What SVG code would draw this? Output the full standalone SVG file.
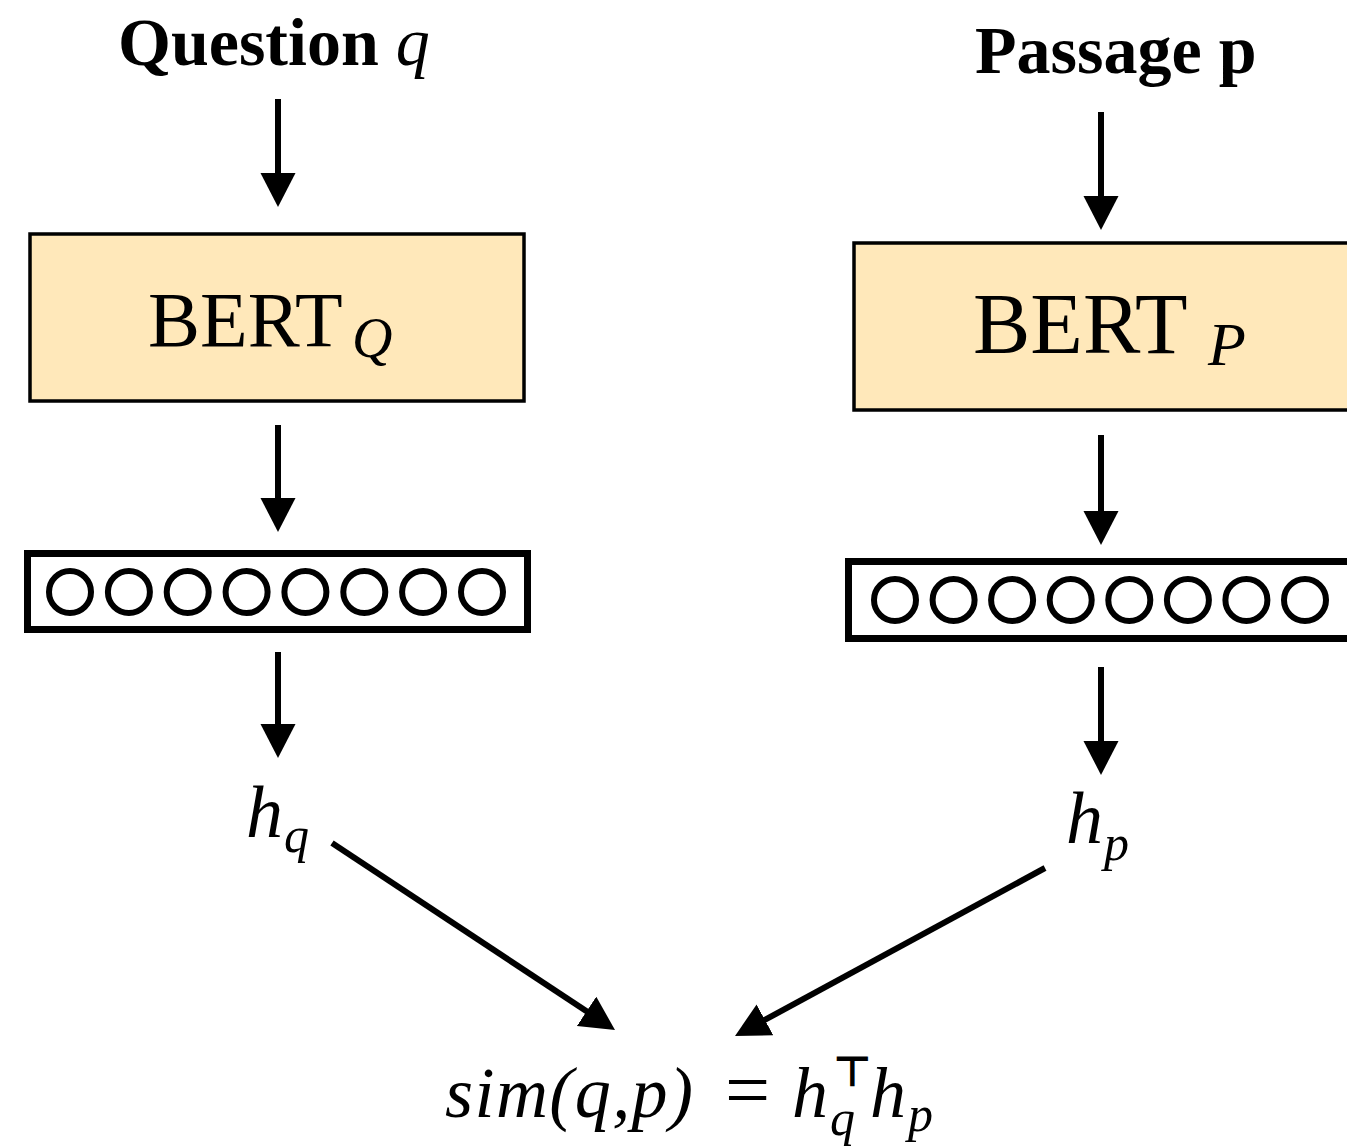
<svg xmlns="http://www.w3.org/2000/svg" width="1347" height="1148" viewBox="0 0 1347 1148">
<defs>
<style>
.lbl{font-family:"Liberation Serif",serif;font-weight:bold;font-size:68px;fill:#000}
.it{font-family:"Liberation Serif",serif;font-style:italic;fill:#000}
.rm{font-family:"Liberation Serif",serif;fill:#000}
.bert{fill:#FFE8BA;stroke:#000;stroke-width:3.5}
.vec{fill:#fff;stroke:#000;stroke-width:7}
.cell{fill:#fff;stroke:#000;stroke-width:6}
.conn{stroke:#000;stroke-width:6;fill:none;marker-end:url(#ah)}
</style>
<marker id="ah" markerUnits="userSpaceOnUse" markerWidth="36" markerHeight="36" refX="14" refY="17.5" orient="auto">
<path d="M0,0 L34,17.5 L0,35 z" fill="#000"/>
</marker>
</defs>
<rect width="1347" height="1148" fill="#fff"/>
<g id="question-label"><text x="118" y="65" class="lbl">Question <tspan class="it" font-weight="normal">q</tspan></text></g>
<g id="passage-label"><text x="975" y="73" class="lbl">Passage p</text></g>
<g id="bert-q">
<rect x="30" y="234" width="494" height="167" class="bert"/>
<text x="148" y="346" class="rm" font-size="78">BERT<tspan class="it" font-size="56" x="352" y="357">Q</tspan></text>
</g>
<g id="bert-p">
<rect x="854" y="243" width="510" height="167" class="bert"/>
<text x="973" y="353" class="rm" font-size="86">BERT<tspan class="it" font-size="62" x="1208" y="365">P</tspan></text>
</g>
<g id="vec-q">
<rect x="27.5" y="553.5" width="500" height="76" class="vec"/>
<g class="cell">
<circle cx="70" cy="592" r="21"/><circle cx="128.9" cy="592" r="21"/><circle cx="187.7" cy="592" r="21"/><circle cx="246.6" cy="592" r="21"/><circle cx="305.4" cy="592" r="21"/><circle cx="364.3" cy="592" r="21"/><circle cx="423.1" cy="592" r="21"/><circle cx="482" cy="592" r="21"/>
</g>
</g>
<g id="vec-p">
<rect x="848.5" y="561.5" width="510" height="77" class="vec"/>
<g class="cell">
<circle cx="895" cy="600" r="21"/><circle cx="953.6" cy="600" r="21"/><circle cx="1012.1" cy="600" r="21"/><circle cx="1070.7" cy="600" r="21"/><circle cx="1129.3" cy="600" r="21"/><circle cx="1187.9" cy="600" r="21"/><circle cx="1246.4" cy="600" r="21"/><circle cx="1305" cy="600" r="21"/>
</g>
</g>
<g id="h-q"><text x="246" y="837" class="it" font-size="74">h<tspan font-size="50" x="284" y="852">q</tspan></text></g>
<g id="h-p"><text x="1066" y="843" class="it" font-size="74">h<tspan font-size="50" x="1104" y="860">p</tspan></text></g>
<g id="sim">
<text y="1117" class="it" font-size="72"><tspan x="445" textLength="248" lengthAdjust="spacing">sim(q,p)</tspan><tspan class="rm" font-style="normal" font-size="80" x="725">=</tspan><tspan x="792">h</tspan><tspan font-size="50" x="830" y="1135">q</tspan><tspan x="870" y="1117">h</tspan><tspan font-size="50" x="908" y="1131">p</tspan></text>
<text x="833" y="1086" font-family="DejaVu Sans,sans-serif" font-size="42" font-weight="bold">⊤</text>
</g>
<g id="connectors">
<line x1="278" y1="99" x2="278" y2="187" class="conn"/>
<line x1="278" y1="425" x2="278" y2="512" class="conn"/>
<line x1="278" y1="652" x2="278" y2="738" class="conn"/>
<line x1="1101" y1="112" x2="1101" y2="210" class="conn"/>
<line x1="1101" y1="435" x2="1101" y2="525" class="conn"/>
<line x1="1101" y1="667" x2="1101" y2="755" class="conn"/>
<line x1="332" y1="843" x2="598.3" y2="1019" class="conn"/>
<line x1="1045" y1="868" x2="752.6" y2="1026.5" class="conn"/>
</g>
</svg>
